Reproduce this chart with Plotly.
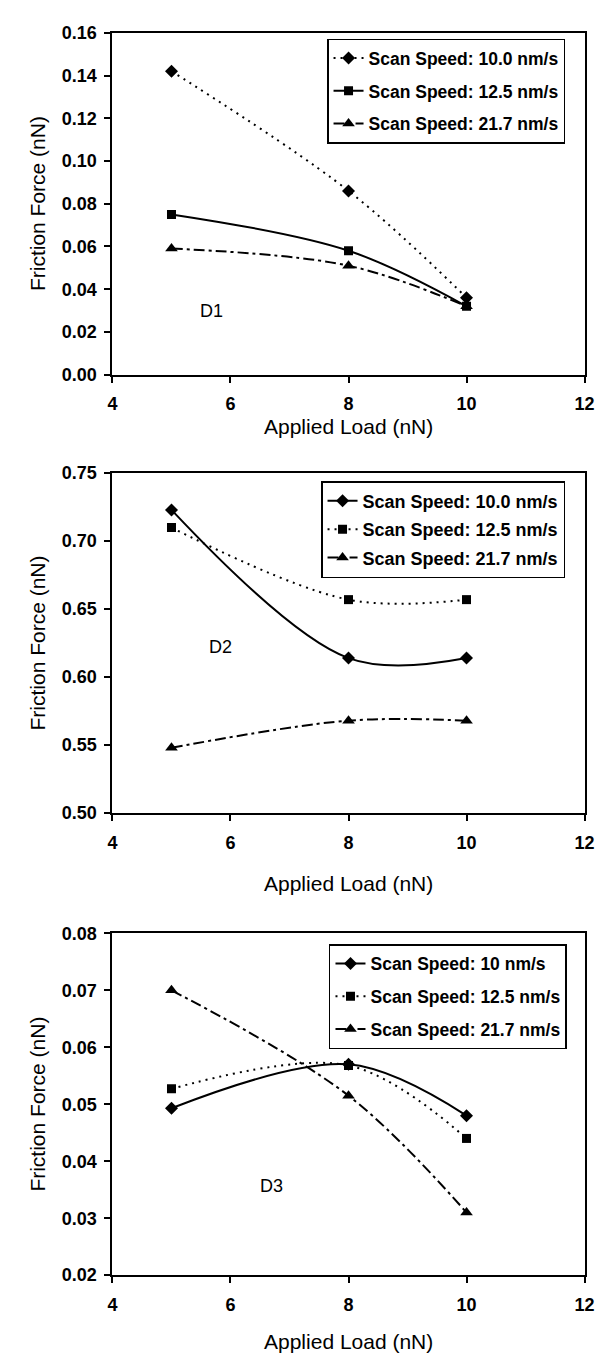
import plotly.graph_objects as go

# ---------------- data ----------------
applied_load = [5, 8, 10]

d1_speed_10 = [0.142, 0.086, 0.036]
d1_speed_125 = [0.075, 0.058, 0.032]
d1_speed_217 = [0.059, 0.051, 0.032]

d2_speed_10 = [0.723, 0.614, 0.614]
d2_speed_125 = [0.710, 0.657, 0.657]
d2_speed_217 = [0.548, 0.568, 0.568]

d3_speed_10 = [0.0493, 0.0570, 0.0480]
d3_speed_125 = [0.0527, 0.0568, 0.0440]
d3_speed_217 = [0.0700, 0.0515, 0.0310]

d1_names = ["Scan Speed: 10.0 nm/s", "Scan Speed: 12.5 nm/s", "Scan Speed: 21.7 nm/s"]
d2_names = ["Scan Speed: 10.0 nm/s", "Scan Speed: 12.5 nm/s", "Scan Speed: 21.7 nm/s"]
d3_names = ["Scan Speed: 10 nm/s", "Scan Speed: 12.5 nm/s", "Scan Speed: 21.7 nm/s"]

panel_labels = ["D1", "D2", "D3"]
x_title = "Applied Load (nN)"
y_title = "Friction Force (nN)"

# ---------------- styling ----------------
W, H = 608, 1356
FONT = "Liberation Sans, Arial, sans-serif"
DOT = "2px,5px"
DASHDOT = "11px,4px,3px,4px"

def py(p):
    return 1 - p / H

def px(p):
    return p / W

x_dom = [px(102), px(586)]
panels = [
    dict(top=15, bot=362, yr=[0, 0.16], dt=0.02, xt=415, lab=(5.67, 0.030)),
    dict(top=462, bot=807, yr=[0.5, 0.75], dt=0.05, xt=878, lab=(5.83, 0.6225)),
    dict(top=929, bot=1276, yr=[0.02, 0.08], dt=0.01, xt=1343, lab=(6.70, 0.0357)),
]

series = [
    (d1_names, [d1_speed_10, d1_speed_125, d1_speed_217], [DOT, "solid", DASHDOT]),
    (d2_names, [d2_speed_10, d2_speed_125, d2_speed_217], ["solid", DOT, DASHDOT]),
    (d3_names, [d3_speed_10, d3_speed_125, d3_speed_217], ["solid", DOT, DASHDOT]),
]
symbols = ["diamond", "square", "triangle-up"]
msizes = [10, 9, 11]

legend_pos = [(566, 21), (566, 470), (568, 940)]
legend_font = [17.5, 18, 17.5]
legend_gap = [7, 2, 7]

fig = go.Figure()
annotations = []
layout = {}

for i, (names, vals, dashes) in enumerate(series):
    sfx = "" if i == 0 else str(i + 1)
    leg = "legend" if i == 0 else f"legend{i + 1}"
    for j in range(3):
        fig.add_trace(go.Scatter(
            x=applied_load, y=vals[j], name=names[j],
            mode="lines+markers",
            line=dict(color="black", width=2, dash=dashes[j], shape="spline", smoothing=1),
            marker=dict(symbol=symbols[j], size=msizes[j], color="black"),
            xaxis="x" + sfx, yaxis="y" + sfx, legend=leg,
            legendgroup=f"p{i}s{j}",
        ))
    p = panels[i]
    layout["xaxis" + sfx] = dict(
        domain=x_dom, anchor="y" + sfx, range=[4, 12], dtick=2, tick0=4,
        showline=True, linecolor="black", linewidth=2, mirror=True,
        ticks="outside", ticklen=6, tickwidth=1.5, tickcolor="black",
        showgrid=False, zeroline=False, ticklabelstandoff=6,
        tickfont=dict(family=FONT, size=18, color="black", weight="bold"),
    )
    layout["yaxis" + sfx] = dict(
        domain=[py(p["bot"]), py(p["top"])], anchor="x" + sfx,
        range=p["yr"], dtick=p["dt"], tick0=p["yr"][0], tickformat=".2f",
        showline=True, linecolor="black", linewidth=2, mirror=True,
        ticks="outside", ticklen=6, tickwidth=1.5, tickcolor="black",
        showgrid=False, zeroline=False, ticklabelstandoff=4,
        tickfont=dict(family=FONT, size=18, color="black", weight="bold"),
    )
    lx, ly = legend_pos[i]
    layout[leg] = dict(
        x=px(lx), y=py(ly), xanchor="right", yanchor="top", xref="paper", yref="paper",
        bgcolor="white", bordercolor="black", borderwidth=1.5,
        font=dict(family=FONT, size=legend_font[i], color="black", weight="bold"),
        tracegroupgap=legend_gap[i],
    )
    # axis titles
    annotations.append(dict(
        text=x_title, xref="paper", yref="paper", x=px(344), y=py(p["xt"]),
        showarrow=False, xanchor="center", yanchor="middle",
        font=dict(family=FONT, size=21, color="black"),
    ))
    annotations.append(dict(
        text=y_title, xref="paper", yref="paper", x=px(25), y=py((p["top"] + p["bot"]) / 2),
        showarrow=False, xanchor="center", yanchor="middle", textangle=-90,
        font=dict(family=FONT, size=21, color="black"),
    ))
    annotations.append(dict(
        text=panel_labels[i], xref="x" + sfx, yref="y" + sfx, x=p["lab"][0], y=p["lab"][1],
        showarrow=False, xanchor="center", yanchor="middle",
        font=dict(family=FONT, size=18, color="black"),
    ))

fig.update_layout(
    width=W, height=H, margin=dict(l=0, r=0, t=0, b=0),
    paper_bgcolor="white", plot_bgcolor="white",
    annotations=annotations, showlegend=True,
    **layout,
)

fig.write_html("out.html")
